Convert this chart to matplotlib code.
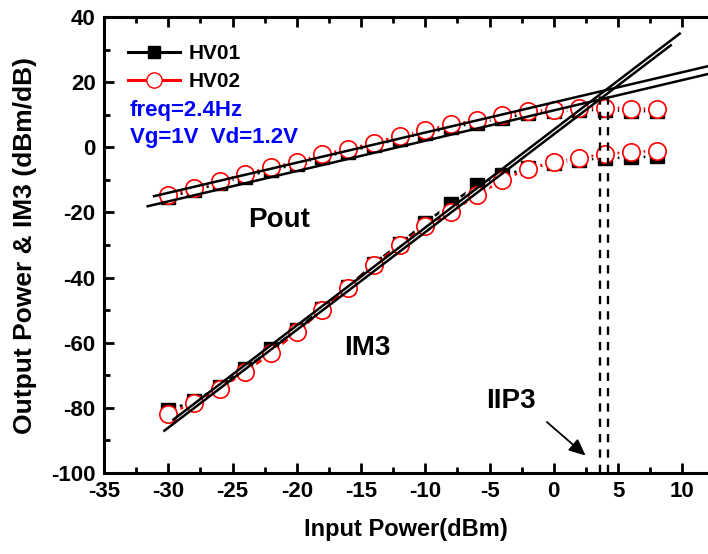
import matplotlib
matplotlib.use("Agg")
import matplotlib.pyplot as plt
from matplotlib.lines import Line2D
from matplotlib.ticker import MultipleLocator

plt.rcParams["font.family"] = ["Liberation Sans", "DejaVu Sans"]
plt.rcParams["font.weight"] = "bold"
plt.rcParams["axes.unicode_minus"] = False

# ── 数据 ────────────────────────────────────────────
pin = [-30, -28, -26, -24, -22, -20, -18, -16, -14, -12,
       -10, -8, -6, -4, -2, 0, 2, 4, 6, 8]

pout_hv01 = [-15.3, -13.2, -11.1, -9.0, -7.0, -5.2, -3.0, -1.3, 0.6, 2.6,
             4.3, 6.1, 7.5, 8.9, 10.4, 11.0, 11.4, 11.4, 11.2, 11.0]
pout_hv02 = [-14.7, -12.4, -10.3, -8.1, -6.2, -4.5, -2.1, -0.6, 1.4, 3.5,
             5.2, 7.0, 8.3, 9.8, 11.0, 11.6, 12.2, 12.2, 11.9, 11.7]

im3_hv01 = [-80.7, -78.0, -73.5, -68.0, -62.0, -56.0, -49.5, -42.8, -35.8, -29.6,
            -23.2, -17.3, -11.7, -8.6, -6.5, -4.8, -3.8, -3.4, -3.1, -2.8]
im3_hv02 = [-81.8, -78.5, -74.1, -69.0, -63.2, -56.7, -50.0, -43.1, -36.2, -30.1,
            -24.3, -19.9, -14.7, -10.1, -6.6, -4.5, -3.2, -2.1, -1.4, -1.2]

# 外推直线端点
pout_fit1_x = [-31.1, 12.0]
pout_fit1_y = [-15.0, 24.9]
pout_fit2_x = [-31.6, 12.0]
pout_fit2_y = [-18.1, 22.5]
im3_fit1_x = [-29.6, 9.8]
im3_fit1_y = [-83.6, 34.9]
im3_fit2_x = [-30.3, 9.1]
im3_fit2_y = [-87.0, 31.3]

# IIP3 位置
iip3_x = [3.57, 4.19]
iip3_top = [17.0, 17.6]

# ── 绘图 ────────────────────────────────────────────
fig = plt.figure(figsize=(7.08, 5.54), dpi=100)
ax = fig.add_axes([0.1469, 0.1462, 0.8531, 0.8231])

series = [
    (pout_hv01, "black"), (im3_hv01, "black"),
    (pout_hv02, "red"), (im3_hv02, "red"),
]
# 连线（数据点附近留白，只露出中间一小段）
for ys, c in series:
    ax.plot(pin, ys, "-", color=c, lw=1.8, zorder=1)
for ys, c in series:
    ax.plot(pin, ys, "o", ms=17.5, mfc="white", mec="none", zorder=1.5)

ax.plot(pin, pout_hv01, "s", ms=9.5, mfc="black", mec="black", zorder=2)
ax.plot(pin, im3_hv01, "s", ms=9.5, mfc="black", mec="black", zorder=2)
ax.plot(pin, pout_hv02, "o", ms=12.5, mfc="white", mec="red", mew=1.2, zorder=2.5)
ax.plot(pin, im3_hv02, "o", ms=12.5, mfc="white", mec="red", mew=1.2, zorder=2.5)

for fx, fy in [(pout_fit1_x, pout_fit1_y), (pout_fit2_x, pout_fit2_y),
               (im3_fit1_x, im3_fit1_y), (im3_fit2_x, im3_fit2_y)]:
    ax.plot(fx, fy, color="black", lw=1.8, zorder=3)

for xv, top in zip(iip3_x, iip3_top):
    ax.plot([xv, xv], [-100, top], color="black", lw=1.7, ls=(0, (3.5, 3)),
            zorder=3)

ax.set_xlim(-35, 12)
ax.set_ylim(-100, 40)
ax.xaxis.set_major_locator(MultipleLocator(5))
ax.xaxis.set_minor_locator(MultipleLocator(2.5))
ax.yaxis.set_major_locator(MultipleLocator(20))
ax.yaxis.set_minor_locator(MultipleLocator(10))
ax.tick_params(which="both", direction="in", top=True, right=False, width=2,
               labelsize=16)
ax.tick_params(axis="x", pad=6)
ax.tick_params(axis="y", pad=6)
ax.tick_params(which="major", length=7)
ax.tick_params(which="minor", length=4)
for lab in ax.get_xticklabels() + ax.get_yticklabels():
    lab.set_fontweight("bold")
for side in ["left", "bottom", "top"]:
    ax.spines[side].set_linewidth(2.2)
ax.spines["right"].set_visible(False)

ax.set_xlabel("Input Power(dBm)", fontsize=17, fontweight="bold", labelpad=11)
ax.set_ylabel("Output Power & IM3 (dBm/dB)", fontsize=19, fontweight="bold",
              labelpad=10)

handles = [
    Line2D([], [], color="black", lw=2.2, marker="s", ms=8, mfc="black"),
    Line2D([], [], color="red", lw=2.2, marker="o", ms=11, mfc="white", mec="red"),
]
ax.legend(handles, ["HV01", "HV02"], loc="upper left",
          bbox_to_anchor=(0.023, 0.964), frameon=False, borderpad=0,
          handlelength=2.5, handletextpad=0.4, labelspacing=0.44,
          prop={"size": 15, "weight": "bold"})

ax.text(0.043, 0.796, "freq=2.4Hz", transform=ax.transAxes, color="blue",
        fontsize=16, fontweight="bold", va="center", ha="left")
ax.text(0.043, 0.735, "Vg=1V  Vd=1.2V", transform=ax.transAxes, color="blue",
        fontsize=16, fontweight="bold", va="center", ha="left")

ax.text(-21.4, -22.4, "Pout", fontsize=20, fontweight="bold", ha="center",
        va="center")
ax.text(-14.5, -61.7, "IM3", fontsize=20, fontweight="bold", ha="center",
        va="center")
ax.text(-3.3, -78.0, "IIP3", fontsize=20, fontweight="bold", ha="center",
        va="center")
ax.annotate("", xy=(2.64, -95.2), xytext=(-0.7, -83.8),
            arrowprops=dict(arrowstyle="-|>,head_length=1.0,head_width=0.45",
                            color="black", lw=1.3))

fig.savefig("out.png", dpi=100)
